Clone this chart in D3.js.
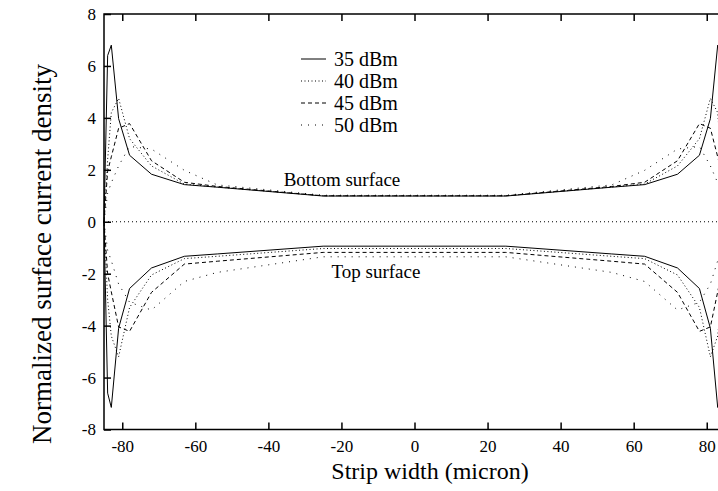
<!DOCTYPE html>
<html><head><meta charset="utf-8">
<script src="https://cdn.jsdelivr.net/npm/d3@7"></script>
<style>
html,body{margin:0;padding:0;background:#fff;}
svg{display:block;}
text{font-family:"Liberation Serif","Times New Roman",serif;fill:#000;}
</style></head>
<body>
<svg id="c" width="718" height="491"></svg>
<script>
// Strip position (micron)
const xs = [-85,-84,-83,-81,-78,-72,-63,-54,-25,25,54,63,72,78,81,83,84,85];
// Bottom surface (positive)
const bot35 = [0,6.4,6.8,3.97,2.56,1.83,1.43,1.33,0.99,0.99,1.33,1.43,1.83,2.56,3.97,6.8,6.4,0];
const bot40 = [0,2.4,4.2,4.75,3.2,2.15,1.45,1.34,1.0,1.0,1.34,1.45,2.15,3.2,4.75,4.2,2.4,0];
const bot45 = [0,1.95,2.5,3.6,3.78,2.35,1.52,1.36,1.0,1.0,1.36,1.52,2.35,3.78,3.6,2.5,1.95,0];
const bot50 = [0,1.1,1.5,2.15,2.9,2.8,1.98,1.42,1.02,1.02,1.42,1.98,2.8,2.9,2.15,1.5,1.1,0];
// Top surface (negative)
const top35 = [0,-6.6,-7.15,-4.1,-2.57,-1.78,-1.33,-1.24,-0.94,-0.94,-1.24,-1.33,-1.78,-2.57,-4.1,-7.15,-6.6,0];
const top40 = [0,-3.0,-4.4,-5.2,-3.3,-2.05,-1.42,-1.33,-1.03,-1.03,-1.33,-1.42,-2.05,-3.3,-5.2,-4.4,-3.0,0];
const top45 = [0,-2.0,-2.7,-4.05,-4.22,-2.72,-1.63,-1.52,-1.18,-1.18,-1.52,-1.63,-2.72,-4.22,-4.05,-2.7,-2.0,0];
const top50 = [0,-1.1,-1.5,-2.4,-3.1,-3.4,-2.3,-1.95,-1.35,-1.35,-1.95,-2.3,-3.4,-3.1,-2.4,-1.5,-1.1,0];

const legendLabels = ["35 dBm","40 dBm","45 dBm","50 dBm"];
const xTicks = [-80,-60,-40,-20,0,20,40,60,80];
const yTicks = [-8,-6,-4,-2,0,2,4,6,8];

const dashes = ["none","1,2.5","4,3","1,6"];
const series = [
  {name:legendLabels[0], bot:bot35, top:top35},
  {name:legendLabels[1], bot:bot40, top:top40},
  {name:legendLabels[2], bot:bot45, top:top45},
  {name:legendLabels[3], bot:bot50, top:top50}
];

const svg = d3.select("#c");
const x = d3.scaleLinear().domain([-85,85]).range([104,725]);
const y = d3.scaleLinear().domain([-8,8]).range([429.5,14]);
const fmt = d => String(d);

// zero line
svg.append("line").attr("x1",x(-85)).attr("x2",x(85)).attr("y1",y(0)).attr("y2",y(0))
  .attr("stroke","#000").attr("stroke-width",1).attr("stroke-dasharray","1,3");

const line = d3.line().x(d=>x(d[0])).y(d=>y(d[1]));
series.forEach((s,i)=>{
  [s.bot,s.top].forEach(vals=>{
    svg.append("path").datum(xs.map((v,j)=>[v,vals[j]]))
      .attr("d",line).attr("fill","none").attr("stroke","#000")
      .attr("stroke-width",1).attr("stroke-dasharray",dashes[i]);
  });
});

// axes frame
svg.append("rect").attr("x",x(-85)).attr("y",y(8)).attr("width",x(85)-x(-85)).attr("height",y(-8)-y(8))
  .attr("fill","none").attr("stroke","#000").attr("stroke-width",1.5);

const xAxB = d3.axisBottom(x).tickValues(xTicks).tickSizeInner(-7).tickSizeOuter(0).tickPadding(10).tickFormat(fmt);
const gxb = svg.append("g").attr("transform",`translate(0,${y(-8)})`).call(xAxB);
gxb.select(".domain").remove();
gxb.selectAll("text").attr("font-size",17).attr("font-family","Liberation Serif");
const xAxT = d3.axisTop(x).tickValues(xTicks).tickSizeInner(-7).tickSizeOuter(0).tickFormat("");
const gxt = svg.append("g").attr("transform",`translate(0,${y(8)})`).call(xAxT);
gxt.select(".domain").remove();

const yAxL = d3.axisLeft(y).tickValues(yTicks).tickSizeInner(-7).tickSizeOuter(0).tickPadding(8).tickFormat(fmt);
const gyl = svg.append("g").attr("transform",`translate(${x(-85)},0)`).call(yAxL);
gyl.select(".domain").remove();
gyl.selectAll("text").attr("font-size",17).attr("font-family","Liberation Serif");
const yAxR = d3.axisRight(y).tickValues(yTicks).tickSizeInner(-7).tickSizeOuter(0).tickFormat("");
const gyr = svg.append("g").attr("transform",`translate(${x(85)},0)`).call(yAxR);
gyr.select(".domain").remove();
svg.selectAll(".tick line").attr("stroke","#000").attr("stroke-width",1.5);

// legend
legendLabels.forEach((t,i)=>{
  const yy = 61 + i*22;
  svg.append("line").attr("x1",301).attr("x2",326).attr("y1",yy-2).attr("y2",yy-2)
    .attr("stroke","#000").attr("stroke-width",1).attr("stroke-dasharray",dashes[i]);
  svg.append("text").attr("x",334).attr("y",yy+5).attr("font-size",20).text(t);
});

svg.append("text").attr("x",342).attr("y",186).attr("text-anchor","middle").attr("font-size",19).text("Bottom surface");
svg.append("text").attr("x",376).attr("y",278).attr("text-anchor","middle").attr("font-size",19).text("Top surface");

svg.append("text").attr("x",430).attr("y",479).attr("text-anchor","middle").attr("font-size",24).text("Strip width (micron)");
svg.append("text").attr("transform","translate(51,254) rotate(-90)").attr("text-anchor","middle").attr("font-size",27).text("Normalized surface current density");
</script>
</body></html>
